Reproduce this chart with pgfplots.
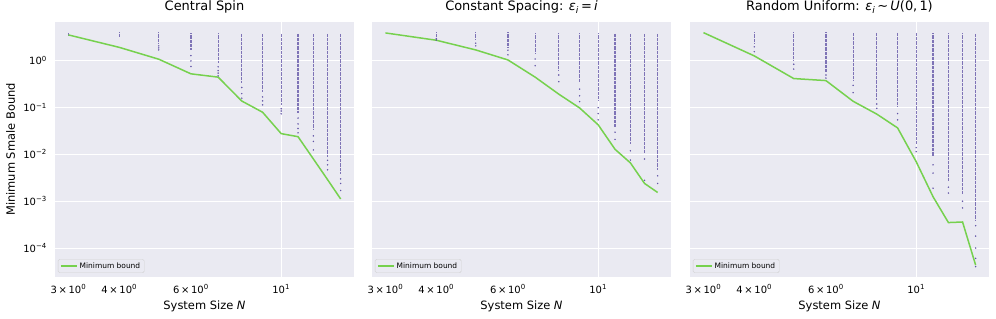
\documentclass[border=0pt]{standalone}
\usepackage{fontspec}
\setmainfont{DejaVu Sans}
\usepackage{pgfplots}
\pgfplotsset{compat=1.18}
\definecolor{sbbg}{HTML}{EAEAF2}
\definecolor{lgreen}{HTML}{76D14E}
\definecolor{dotc}{HTML}{5A4CA2}
\newcommand\mytl{\fontsize{10}{12}\selectfont}
\newcommand\myxl[1]{#1\,×\,10\textsuperscript{0}}
\tikzset{
  dsegs/.style={draw=dotc, line width=1.2bp, opacity=0.75, dash pattern=on 1bp off 0.3bp},
  dptss/.style={mark=*, mark size=0.55bp, draw=dotc, fill=dotc, opacity=0.8},
  mlines/.style={draw=lgreen, line width=1.5bp},
}
\pgfplotsset{
    width=299bp, height=255bp, scale only axis,
    xmin=2.78, xmax=15.1, ymin=2.4e-5, ymax=6.8,
    axis background/.style={fill=sbbg},
    axis line style={draw=none}, tick style={draw=none},
    xmajorgrids, ymajorgrids,
    major grid style={white, line width=0.9bp},
    xtick={10}, xticklabels={10\textsuperscript{1}},
    extra x ticks={3,4,6},
    extra x tick labels={\myxl{3},\myxl{4},\myxl{6}},
    extra x tick style={grid=none},
    xticklabel style={font=\mytl, anchor=base, inner sep=0pt, yshift=-16bp},
    ytick={1e-4,1e-3,1e-2,1e-1,1},
    yticklabel style={font=\mytl, anchor=base east, inner sep=0pt, xshift=-8bp, yshift=-4bp},
    title style={font=\fontsize{13}{15}\selectfont, at={(axis description cs:0.5,1.0216)}, anchor=base, inner sep=0pt},
    xlabel style={font=\fontsize{11.5}{13}\selectfont, at={(axis description cs:0.5,-0.1255)}, anchor=base, inner sep=0pt},
    ylabel style={font=\fontsize{11.5}{13}\selectfont, at={(axis description cs:-0.1338,0.5)}, anchor=base, inner sep=0pt},
    unbounded coords=jump,
    legend style={at={(axis description cs:0.01,0.0157)}, anchor=south west, fill=sbbg, draw=black!18, rounded corners=1.5bp, font=\fontsize{7.5}{9}\selectfont, inner xsep=2bp, inner ysep=1.2bp},
    legend cell align=left,
}
\begin{document}
\begin{tikzpicture}
\useasboundingbox (0bp,0bp) rectangle (996bp,319bp);
% ---------------- Panel 1 ----------------
\begin{axis}[xmode=log, ymode=log, anchor=south west, at={(55bp,42bp)}, title={Central Spin}, ylabel={Minimum Smale Bound}, xlabel={System Size \textit{N}},
  yticklabels={10\textsuperscript{−4},10\textsuperscript{−3},10\textsuperscript{−2},10\textsuperscript{−1},10\textsuperscript{0}},
  legend image code/.code={\draw[#1] (0bp,0bp) -- (16bp,0bp);}]
\addplot[dsegs, no marks, forget plot] coordinates {
(3,4.0)(3,3.5)(3,nan)
(4,4.1)(4,3.3)(4,nan)
(5,4.1)(5,2.4)(5,nan)
(6,3.9)(6,1.7)(6,nan)
(7,3.9)(7,0.9)(7,nan)
(8,3.8)(8,0.34)(8,nan)
(9,3.8)(9,0.22)(9,nan)
(10,3.8)(10,0.115)(10,nan)
(11,3.8)(11,0.077)(11,nan)
(12,3.8)(12,0.034)(12,nan)
(13,3.8)(13,0.009)(13,nan)
(14,3.8)(14,0.004)};
\addplot[dptss, only marks, forget plot] coordinates {
(5,2.1)(5,1.9)(5,1.72)(6,1.3)(6,1.0)(6,0.76)(7,0.75)(7,0.62)(7,0.55)(7,0.48)
(8,0.27)(8,0.2)(8,0.16)(9,0.17)(9,0.14)(9,0.115)(10,0.095)(10,0.085)(10,0.074)
(11,0.06)(11,0.045)(11,0.036)(11,0.029)(12,0.025)(12,0.019)(12,0.0125)
(13,0.0075)(13,0.006)(13,0.0047)(14,0.003)(14,0.0024)(14,0.0017)};
\addplot[mlines, no marks] coordinates {
(3,3.6)(4,1.95)(5,1.09)(6,0.53)(7,0.45)(8,0.139)(9,0.080)(10,0.0279)(11,0.024)(12,0.0080)(13,0.0029)(14,0.00112)};
\addlegendentry{Minimum bound}
\end{axis}
% ---------------- Panel 2 ----------------
\begin{axis}[xmode=log, ymode=log, anchor=south west, at={(372bp,42bp)}, title={Constant Spacing: \textit{ε}\textsubscript{\textit{i}}\,=\,\textit{i}}, xlabel={System Size \textit{N}}, yticklabels={{},{},{},{},{}},
  legend image code/.code={\draw[#1] (0bp,0bp) -- (16bp,0bp);}]
\addplot[dsegs, no marks, forget plot] coordinates {
(4,4.1)(4,3.3)(4,nan)
(5,4.1)(5,2.8)(5,nan)
(6,4.1)(6,2.0)(6,nan)
(7,3.9)(7,1.46)(7,nan)
(8,3.9)(8,0.64)(8,nan)
(9,3.9)(9,0.36)(9,nan)
(10,3.9)(10,0.146)(10,nan)
(11,3.8)(11,0.039)(11,nan)
(12,3.8)(12,0.0173)(12,nan)
(13,3.8)(13,0.0106)(13,nan)
(14,3.8)(14,0.0047)};
\addplot[dptss, only marks, forget plot] coordinates {
(4,3.0)(4,2.8)(5,2.4)(5,2.1)(6,1.7)(6,1.35)(7,1.1)(7,0.79)(8,0.5)(8,0.36)
(9,0.25)(9,0.18)(9,0.135)(10,0.1)(10,0.075)(10,0.055)(11,0.03)(11,0.021)
(12,0.012)(12,0.0076)(13,0.008)(13,0.0028)(14,0.0035)(14,0.0024)};
\addplot[mlines, no marks] coordinates {
(3,3.97)(4,2.77)(5,1.72)(6,1.05)(7,0.45)(8,0.195)(9,0.099)(10,0.043)(11,0.0129)(12,0.0066)(13,0.0024)(14,0.00154)};
\addlegendentry{Minimum bound}
\end{axis}
% ---------------- Panel 3 ----------------
\begin{axis}[xmode=log, ymode=log, anchor=south west, at={(690bp,42bp)}, title={Random Uniform: \textit{ε}\textsubscript{\textit{i}}\,∼\,\textit{U}(0,\,1)}, xlabel={System Size \textit{N}}, yticklabels={{},{},{},{},{}},
  legend image code/.code={\draw[#1] (0bp,0bp) -- (16bp,0bp);}]
\addplot[dsegs, no marks, forget plot] coordinates {
(4,4.1)(4,2.4)(4,nan)
(5,4.1)(5,1.05)(5,nan)
(6,4.1)(6,0.59)(6,nan)
(7,4.0)(7,0.39)(7,nan)
(8,4.0)(8,0.146)(8,nan)
(9,4.0)(9,0.105)(9,nan)
(10,4.0)(10,0.0173)(10,nan)
(11,3.9)(11,0.009)(11,nan)
(12,3.9)(12,0.0028)(12,nan)
(13,3.9)(13,0.0014)(13,nan)
(14,3.8)(14,0.0004)};
\addplot[dptss, only marks, forget plot] coordinates {
(4,2.0)(4,1.58)(5,0.85)(5,0.67)(6,0.5)(6,0.43)(7,0.3)(7,0.21)(8,0.12)(8,0.097)
(9,0.075)(9,0.055)(10,0.014)(10,0.0115)(11,0.006)(11,0.004)(11,0.0019)
(12,0.002)(12,0.0015)(13,0.001)(13,0.00072)
(14,0.0003)(14,0.00018)(14,0.0001)(14,0.00006)(14,0.00004)};
\addplot[mlines, no marks] coordinates {
(3,4.03)(4,1.28)(5,0.42)(6,0.38)(7,0.137)(8,0.073)(9,0.037)(10,0.0070)(11,0.00125)(12,0.00035)(13,0.00036)(14,0.000043)};
\addlegendentry{Minimum bound}
\end{axis}
\end{tikzpicture}
\end{document}
